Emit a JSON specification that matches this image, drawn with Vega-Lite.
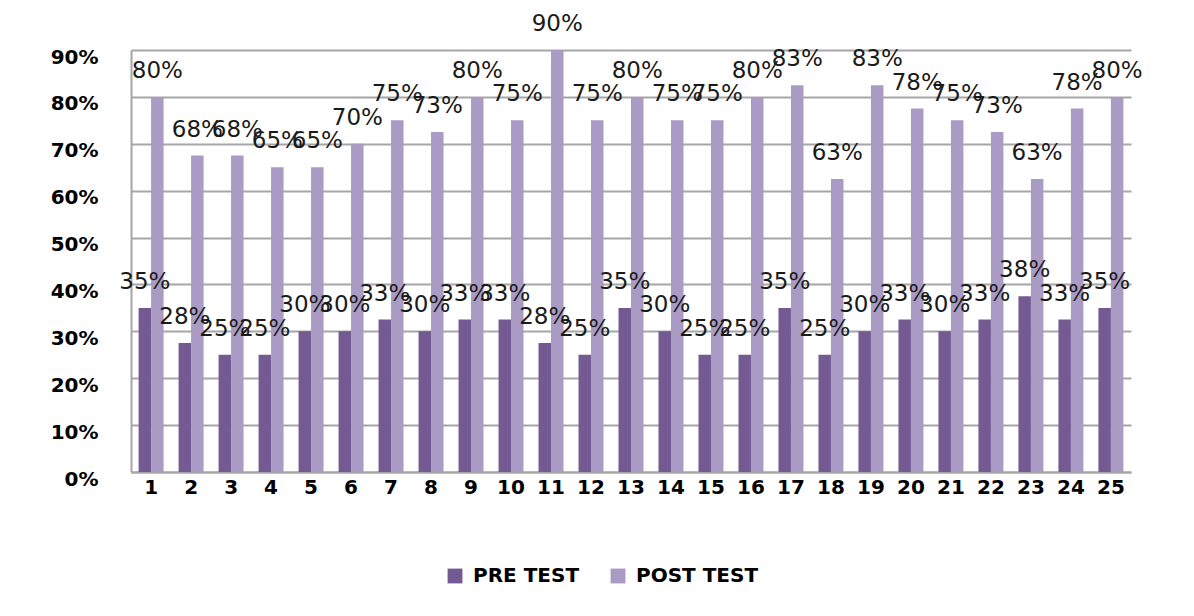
{
  "$schema": "https://vega.github.io/schema/vega-lite/v6.json",
  "width": 1000,
  "height": 422,
  "autosize": {"type": "none"},
  "padding": {"left": 131, "top": 50, "right": 63, "bottom": 144},
  "background": "white",
  "config": {"view": {"stroke": null}, "font": "DejaVu Sans"},
  "data": {
    "values": [
      {"q": 1, "test": "PRE TEST", "v": 0.35}, {"q": 1, "test": "POST TEST", "v": 0.80},
      {"q": 2, "test": "PRE TEST", "v": 0.275}, {"q": 2, "test": "POST TEST", "v": 0.675},
      {"q": 3, "test": "PRE TEST", "v": 0.25}, {"q": 3, "test": "POST TEST", "v": 0.675},
      {"q": 4, "test": "PRE TEST", "v": 0.25}, {"q": 4, "test": "POST TEST", "v": 0.65},
      {"q": 5, "test": "PRE TEST", "v": 0.30}, {"q": 5, "test": "POST TEST", "v": 0.65},
      {"q": 6, "test": "PRE TEST", "v": 0.30}, {"q": 6, "test": "POST TEST", "v": 0.70},
      {"q": 7, "test": "PRE TEST", "v": 0.325}, {"q": 7, "test": "POST TEST", "v": 0.75},
      {"q": 8, "test": "PRE TEST", "v": 0.30}, {"q": 8, "test": "POST TEST", "v": 0.725},
      {"q": 9, "test": "PRE TEST", "v": 0.325}, {"q": 9, "test": "POST TEST", "v": 0.80},
      {"q": 10, "test": "PRE TEST", "v": 0.325}, {"q": 10, "test": "POST TEST", "v": 0.75},
      {"q": 11, "test": "PRE TEST", "v": 0.275}, {"q": 11, "test": "POST TEST", "v": 0.90},
      {"q": 12, "test": "PRE TEST", "v": 0.25}, {"q": 12, "test": "POST TEST", "v": 0.75},
      {"q": 13, "test": "PRE TEST", "v": 0.35}, {"q": 13, "test": "POST TEST", "v": 0.80},
      {"q": 14, "test": "PRE TEST", "v": 0.30}, {"q": 14, "test": "POST TEST", "v": 0.75},
      {"q": 15, "test": "PRE TEST", "v": 0.25}, {"q": 15, "test": "POST TEST", "v": 0.75},
      {"q": 16, "test": "PRE TEST", "v": 0.25}, {"q": 16, "test": "POST TEST", "v": 0.80},
      {"q": 17, "test": "PRE TEST", "v": 0.35}, {"q": 17, "test": "POST TEST", "v": 0.825},
      {"q": 18, "test": "PRE TEST", "v": 0.25}, {"q": 18, "test": "POST TEST", "v": 0.625},
      {"q": 19, "test": "PRE TEST", "v": 0.30}, {"q": 19, "test": "POST TEST", "v": 0.825},
      {"q": 20, "test": "PRE TEST", "v": 0.325}, {"q": 20, "test": "POST TEST", "v": 0.775},
      {"q": 21, "test": "PRE TEST", "v": 0.30}, {"q": 21, "test": "POST TEST", "v": 0.75},
      {"q": 22, "test": "PRE TEST", "v": 0.325}, {"q": 22, "test": "POST TEST", "v": 0.725},
      {"q": 23, "test": "PRE TEST", "v": 0.375}, {"q": 23, "test": "POST TEST", "v": 0.625},
      {"q": 24, "test": "PRE TEST", "v": 0.325}, {"q": 24, "test": "POST TEST", "v": 0.775},
      {"q": 25, "test": "PRE TEST", "v": 0.35}, {"q": 25, "test": "POST TEST", "v": 0.80}
    ]
  },
  "encoding": {
    "x": {
      "field": "q",
      "type": "ordinal",
      "scale": {"paddingInner": 0.375, "paddingOuter": 0.19},
      "axis": {
        "title": null,
        "labelAngle": 0,
        "labelFont": "DejaVu Sans",
        "labelFontWeight": "bold",
        "labelFontSize": 20,
        "labelColor": "#000000",
        "labelPadding": 5,
        "ticks": false,
        "domainColor": "#A6A6A6",
        "domainWidth": 2
      }
    },
    "xOffset": {"field": "test", "sort": ["PRE TEST", "POST TEST"]},
    "y": {
      "field": "v",
      "type": "quantitative",
      "scale": {"domain": [0, 0.9], "nice": false},
      "axis": {
        "title": null,
        "format": ".0%",
        "values": [0, 0.1, 0.2, 0.3, 0.4, 0.5, 0.6, 0.7, 0.8, 0.9],
        "labelFont": "DejaVu Sans",
        "labelFontWeight": "bold",
        "labelFontSize": 20,
        "labelColor": "#000000",
        "labelPadding": 33,
        "labelOffset": 7,
        "ticks": false,
        "domainColor": "#A6A6A6",
        "domainWidth": 2,
        "gridColor": "#A6A6A6",
        "gridWidth": 2
      }
    }
  },
  "layer": [
    {
      "mark": {"type": "bar"},
      "encoding": {
        "color": {
          "field": "test",
          "type": "nominal",
          "scale": {"domain": ["PRE TEST", "POST TEST"], "range": ["#735A92", "#A99BC4"]},
          "legend": {
            "title": null,
            "orient": "none",
            "legendX": 314,
            "legendY": 516,
            "direction": "horizontal",
            "symbolType": "square",
            "symbolSize": 220,
            "symbolStrokeWidth": 0,
            "labelFont": "DejaVu Sans",
            "labelFontWeight": "bold",
            "labelFontSize": 20,
            "labelColor": "#000000",
            "columnPadding": 28,
            "labelOffset": 8
          }
        }
      }
    },
    {
      "mark": {"type": "text", "baseline": "alphabetic", "dy": -19, "font": "DejaVu Sans", "fontSize": 23, "color": "#1a1a1a"},
      "encoding": {
        "text": {"field": "v", "type": "quantitative", "format": ".0%"}
      }
    }
  ]
}
